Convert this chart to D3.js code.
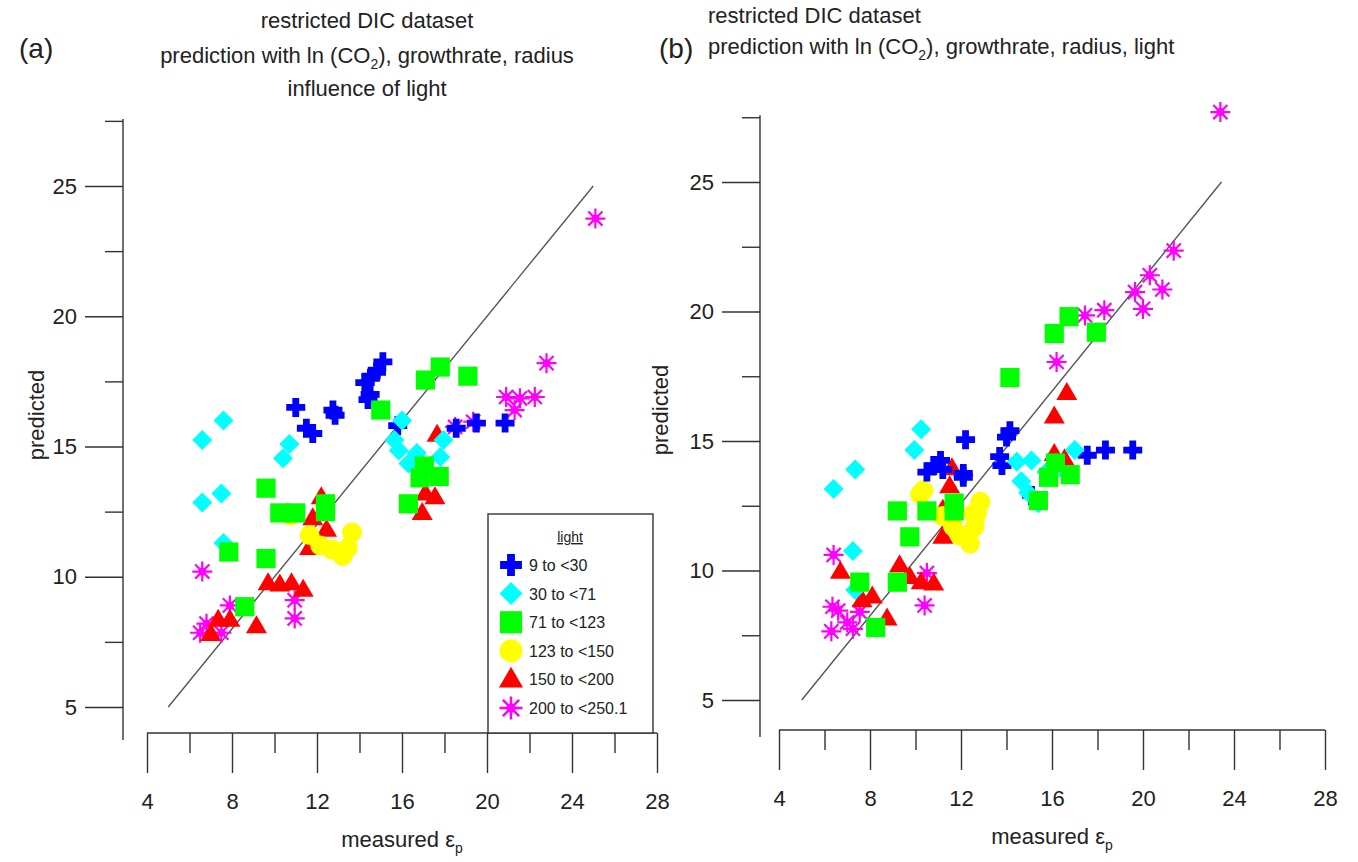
<!DOCTYPE html>
<html><head><meta charset="utf-8">
<script src="https://cdn.jsdelivr.net/npm/d3@7"></script>
<style>
html,body{margin:0;padding:0;background:#fff;}
svg{display:block;font-family:"Liberation Sans",Arial,sans-serif;}
</style></head>
<body>
<svg id="chart" width="1358" height="862"></svg>
<script>
// ---------- data ----------
const seriesNames = ["9 to <30", "30 to <71", "71 to <123", "123 to <150", "150 to <200", "200 to <250.1"];
const xTickValues = [4, 8, 12, 16, 20, 24, 28];
const xMinorTicks = [6, 10, 14, 18, 22, 26];
const yTickValues = [5, 10, 15, 20, 25];
const yMinorTicks = [7.5, 12.5, 17.5, 22.5, 27.5];

// panel (a): prediction with ln(CO2), growthrate, radius
const a_light9 = [[11.0,16.5],[11.5,15.7],[11.8,15.5],[12.75,16.4],[12.85,16.2],[15.1,18.25],[14.8,17.85],[14.55,17.7],[14.25,17.45],[14.5,17.0],[14.4,16.8],[15.8,15.8],[18.55,15.7],[19.5,15.9],[20.85,15.9]];
const a_light30 = [[7.6,16.0],[6.6,15.25],[10.7,15.1],[10.4,14.55],[6.6,12.85],[7.5,13.2],[7.6,11.3],[16.0,16.0],[15.65,15.25],[15.85,14.85],[16.7,14.75],[16.3,14.35],[17.95,15.25],[17.8,14.6]];
const a_light71 = [[9.6,13.4],[10.25,12.45],[11.0,12.45],[12.4,12.8],[12.4,12.5],[7.85,10.95],[9.6,10.7],[8.6,8.85],[17.8,18.05],[17.1,17.55],[19.1,17.7],[15.0,16.4],[16.85,13.8],[17.75,13.85],[17.05,14.25],[16.3,12.8]];
const a_light123 = [[10.75,12.35],[11.65,11.6],[12.15,11.2],[12.7,11.05],[13.2,10.8],[13.45,11.1],[13.65,11.7]];
const a_light150 = [[12.2,13.05],[11.8,12.25],[12.45,11.8],[11.65,11.1],[9.7,9.75],[10.25,9.7],[10.8,9.75],[11.35,9.5],[9.15,8.1],[7.9,8.35],[7.35,8.35],[7.0,7.8],[17.65,15.45],[17.1,13.2],[17.55,13.05],[16.95,12.45]];
const a_light200 = [[6.6,10.2],[7.9,8.9],[6.8,8.2],[6.5,7.85],[7.5,7.85],[10.95,9.1],[10.95,8.4],[22.8,18.2],[20.9,16.9],[21.55,16.85],[22.25,16.9],[21.3,16.4],[18.5,15.75],[19.35,15.95],[25.1,23.75]];

// panel (b): prediction with ln(CO2), growthrate, radius, light
const b_light9 = [[14.15,15.4],[14.0,15.15],[13.7,14.4],[13.8,14.05],[12.2,15.05],[17.55,14.45],[18.35,14.65],[19.55,14.65],[12.1,13.75],[15.1,12.9],[11.1,14.25],[10.8,14.05],[11.2,13.9],[10.5,13.8],[12.1,13.6]];
const b_light30 = [[10.25,15.45],[9.95,14.65],[7.35,13.9],[6.4,13.15],[7.25,10.75],[7.35,9.25],[14.45,14.2],[15.1,14.25],[17.0,14.65],[15.75,13.8],[16.7,13.7],[14.65,13.45],[14.95,13.0],[15.4,12.6]];
const b_light71 = [[16.75,19.8],[16.1,19.15],[17.95,19.2],[14.15,17.45],[16.15,14.15],[15.85,13.6],[16.8,13.7],[15.4,12.7],[9.2,12.3],[10.5,12.3],[11.7,12.6],[11.7,12.3],[9.75,11.3],[7.55,9.55],[9.2,9.55],[8.25,7.8]];
const b_light123 = [[10.35,13.1],[10.2,12.95],[11.2,12.1],[11.65,11.7],[11.95,11.35],[12.4,11.05],[12.7,12.2],[12.85,12.65],[12.55,12.2],[12.6,11.7]];
const b_light150 = [[16.65,16.85],[16.1,15.95],[16.1,14.5],[16.55,14.3],[11.6,13.95],[11.5,13.25],[11.2,12.35],[11.2,11.3],[6.7,9.95],[9.3,10.2],[9.75,9.75],[10.25,9.55],[10.8,9.5],[7.65,8.85],[8.1,9.0],[8.75,8.15]];
const b_light200 = [[23.4,27.7],[21.35,22.35],[20.85,20.85],[20.3,21.4],[19.65,20.75],[20.0,20.1],[18.3,20.05],[17.45,19.85],[16.2,18.05],[6.4,10.6],[10.5,9.9],[10.4,8.65],[6.6,8.45],[6.3,7.65],[7.0,8.0],[7.25,7.75],[7.55,8.4],[6.35,8.6]];

// 1:1 reference lines (data coordinates)
const a_refLine = [[5,5],[25,25]];
const b_refLine = [[5,5],[23.45,25]];

// ---------- styling ----------
const colors = ["#0000ff", "#00ffff", "#00ff00", "#ffff00", "#ff0000", "#ff00ff"];
const shapes = ["cross", "diamond", "square", "circle", "triangle", "star"];
const drawOrder = [5, 4, 3, 0, 1, 2]; // bottom -> top
const txt = "#222";
const FS = 22;

function shapePath(shape, s) {
  const r = 10 * s;
  if (shape === "cross") {
    const a = 9.5 * s, t = 3.4 * s;
    return `M${-t},${-a}H${t}V${-t}H${a}V${t}H${t}V${a}H${-t}V${t}H${-a}V${-t}H${-t}Z`;
  }
  if (shape === "diamond") return `M0,${-r}L${r},0L0,${r}L${-r},0Z`;
  if (shape === "square") { const h = 9.6 * s; return `M${-h},${-h}H${h}V${h}H${-h}Z`; }
  if (shape === "triangle") { const w = 10.5 * s; return `M0,${-11 * s}L${w},${7 * s}L${-w},${7 * s}Z`; }
  if (shape === "circle") return `M${r},0A${r},${r} 0 1,1 ${-r},0A${r},${r} 0 1,1 ${r},0Z`;
  return "";
}

function drawMarker(g, shape, color, x, y, s) {
  if (shape === "star") {
    const r = 10 * s, d = r * 0.7071;
    const st = g.append("g").attr("transform", `translate(${x},${y})`);
    st.append("path")
      .attr("d", `M0,${-r}L0,${r}M${-r},0L${r},0M${-d},${-d}L${d},${d}M${-d},${d}L${d},${-d}`)
      .attr("stroke", color).attr("stroke-width", 2.2 * s).attr("fill", "none");
    st.append("circle").attr("r", 4 * s).attr("fill", color);
  } else {
    g.append("path").attr("transform", `translate(${x},${y})`)
      .attr("d", shapePath(shape, s)).attr("fill", color);
  }
}

const svg = d3.select("#chart");

function panel(cfg) {
  const { x, y, series, ref } = cfg;
  const g = svg.append("g");
  const yAxisX = cfg.yAxisX, xAxisY = cfg.xAxisY;
  g.append("line").attr("x1", yAxisX).attr("x2", yAxisX)
    .attr("y1", y(27.5) - 2).attr("y2", xAxisY + 7).attr("stroke", "#333").attr("stroke-width", 1.4);
  const ya = g.append("g").attr("transform", `translate(${yAxisX},0)`)
    .call(d3.axisLeft(y).tickValues(yTickValues).tickSize(38).tickPadding(8).tickFormat(d3.format("d")));
  ya.select(".domain").remove();
  ya.selectAll("line").attr("stroke", "#333").attr("stroke-width", 1.4);
  ya.selectAll("text").attr("fill", txt).attr("font-size", FS);
  const yam = g.append("g").attr("transform", `translate(${yAxisX},0)`)
    .call(d3.axisLeft(y).tickValues(yMinorTicks).tickSize(18).tickFormat(""));
  yam.select(".domain").remove();
  yam.selectAll("line").attr("stroke", "#333").attr("stroke-width", 1.4);

  g.append("line").attr("x1", x(4)).attr("x2", x(28)).attr("y1", xAxisY).attr("y2", xAxisY)
    .attr("stroke", "#333").attr("stroke-width", 1.4);
  const xa = g.append("g").attr("transform", `translate(0,${xAxisY})`)
    .call(d3.axisBottom(x).tickValues(xTickValues).tickSize(40).tickPadding(20).tickFormat(d3.format("d")));
  xa.select(".domain").remove();
  xa.selectAll("line").attr("stroke", "#333").attr("stroke-width", 1.4);
  xa.selectAll("text").attr("fill", txt).attr("font-size", FS);
  const xam = g.append("g").attr("transform", `translate(0,${xAxisY})`)
    .call(d3.axisBottom(x).tickValues(xMinorTicks).tickSize(20).tickFormat(""));
  xam.select(".domain").remove();
  xam.selectAll("line").attr("stroke", "#333").attr("stroke-width", 1.4);

  g.append("text").attr("transform", `translate(${cfg.yTitleX},${cfg.yTitleY}) rotate(-90)`)
    .attr("text-anchor", "middle").attr("font-size", FS).attr("fill", txt).text("predicted");
  const xt = g.append("text").attr("x", (x(4) + x(28)) / 2).attr("y", xAxisY + 114)
    .attr("text-anchor", "middle").attr("font-size", FS).attr("fill", txt);
  xt.append("tspan").text("measured ε");
  xt.append("tspan").attr("font-size", 14).attr("dy", 6).text("p");

  g.append("path").attr("d", d3.line().x(d => x(d[0])).y(d => y(d[1]))(ref))
    .attr("stroke", "#555").attr("stroke-width", 1.4).attr("fill", "none");

  drawOrder.forEach(i => {
    const sg = g.append("g");
    series[i].forEach(p => drawMarker(sg, shapes[i], colors[i], x(p[0]), y(p[1]), 1));
  });
  return g;
}

panel({
  x: d3.scaleLinear().domain([4, 28]).range([147, 657]),
  y: d3.scaleLinear().domain([5, 25]).range([707, 186]),
  yAxisX: 123, xAxisY: 733, yTitleX: 44, yTitleY: 415,
  series: [a_light9, a_light30, a_light71, a_light123, a_light150, a_light200],
  ref: a_refLine
});
panel({
  x: d3.scaleLinear().domain([4, 28]).range([779, 1325]),
  y: d3.scaleLinear().domain([5, 25]).range([700, 182]),
  yAxisX: 760, xAxisY: 730, yTitleX: 668, yTitleY: 410,
  series: [b_light9, b_light30, b_light71, b_light123, b_light150, b_light200],
  ref: b_refLine
});

function co2Line(x, y, anchor, before, after) {
  const e = svg.append("text").attr("x", x).attr("y", y).attr("text-anchor", anchor)
    .attr("font-size", FS).attr("fill", txt);
  e.append("tspan").text(before + "(CO");
  e.append("tspan").attr("font-size", 14).attr("dy", 6).text("2");
  e.append("tspan").attr("dy", -6).text(")" + after);
}
svg.append("text").attr("x", 367).attr("y", 28).attr("text-anchor", "middle").attr("font-size", FS).attr("fill", txt).text("restricted DIC dataset");
co2Line(367, 63, "middle", "prediction with ln ", ", growthrate, radius");
svg.append("text").attr("x", 367).attr("y", 96).attr("text-anchor", "middle").attr("font-size", FS).attr("fill", txt).text("influence of light");
svg.append("text").attr("x", 708).attr("y", 23).attr("text-anchor", "start").attr("font-size", FS).attr("fill", txt).text("restricted DIC dataset");
co2Line(708, 54, "start", "prediction with ln ", ", growthrate, radius, light");
svg.append("text").attr("x", 19).attr("y", 58).attr("font-size", 28).attr("fill", txt).text("(a)");
svg.append("text").attr("x", 659).attr("y", 58).attr("font-size", 28).attr("fill", txt).text("(b)");

const lg = svg.append("g");
lg.append("rect").attr("x", 488).attr("y", 514).attr("width", 165).attr("height", 219)
  .attr("fill", "#fff").attr("stroke", "#333").attr("stroke-width", 1.4);
lg.append("text").attr("x", 570).attr("y", 542).attr("text-anchor", "middle").attr("font-size", 14)
  .attr("fill", txt).attr("text-decoration", "underline").text("light");
const rowY = d3.scaleLinear().domain([0, 5]).range([565, 708]);
seriesNames.forEach((name, i) => {
  drawMarker(lg, shapes[i], colors[i], 511, rowY(i), 1.15);
  lg.append("text").attr("x", 529).attr("y", rowY(i) + 6).attr("font-size", 16).attr("fill", txt).text(name);
});
</script>
</body></html>
